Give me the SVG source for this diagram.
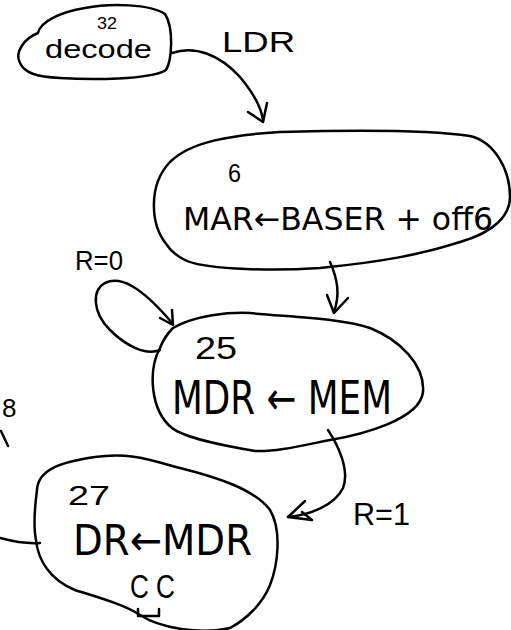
<svg xmlns="http://www.w3.org/2000/svg" width="511" height="630" viewBox="0 0 511 630">
  <style>
    .ink { fill: none; stroke: #000; stroke-width: 2.5; stroke-linecap: round; stroke-linejoin: round; }
    .lbl { font-family: "Liberation Sans", "DejaVu Sans", sans-serif; fill: #000; }
    .op { font-family: "DejaVu Sans", "Liberation Sans", sans-serif; fill: #000; }
  </style>
  <rect width="511" height="630" fill="#fff"/>

  <!-- state 32: decode -->
  <g id="node-decode">
    <path class="ink" d="M20,63 C14,52 25,38 38,33 C40,22 60,12 85,8 C110,3 150,4 165,14 C174,28 172,60 166,70 C150,80 90,80 60,78 C35,77 24,72 20,63 Z"/>
    <text class="lbl" x="97" y="29" font-size="17" textLength="20" lengthAdjust="spacingAndGlyphs">32</text>
    <text class="lbl" x="45" y="58" font-size="26" textLength="107" lengthAdjust="spacingAndGlyphs">decode</text>
  </g>

  <!-- state 6 -->
  <g id="node-6">
    <path class="ink" d="M167,245 C150,225 148,185 170,162 C190,142 230,135 280,132 C350,130 430,130 470,136 C495,142 510,170 510,197 C510,215 495,232 460,242 C420,255 380,262 320,268 C260,272 200,268 185,260 C175,255 170,250 167,245 Z"/>
    <text class="lbl" x="228" y="182" font-size="26" textLength="13" lengthAdjust="spacingAndGlyphs">6</text>
    <text class="op" x="183" y="230" font-size="32" textLength="310" lengthAdjust="spacingAndGlyphs">MAR←BASER + off6</text>
  </g>

  <!-- state 25 -->
  <g id="node-25">
    <path class="ink" d="M173,328 C195,315 230,312 250,313 C290,317 340,318 370,328 C400,340 425,365 423,392 C420,420 360,435 330,440 C300,446 275,452 255,451 C220,445 185,438 172,428 C150,410 148,370 160,348 C163,340 168,333 173,328 Z"/>
    <text class="lbl" x="195" y="359" font-size="32" textLength="42" lengthAdjust="spacingAndGlyphs">25</text>
    <text class="op" x="172" y="414" font-size="46" textLength="220" lengthAdjust="spacingAndGlyphs">MDR ← MEM</text>
  </g>

  <!-- state 27 -->
  <g id="node-27">
    <path class="ink" d="M37,490 C38,470 60,462 95,457 C130,452 150,460 180,468 C220,478 255,490 270,510 C282,530 278,565 270,585 C262,605 245,620 230,628 C200,635 160,628 140,615 C125,605 100,598 75,590 C50,580 38,560 36,540 C33,525 35,505 37,490 Z"/>
    <text class="lbl" x="68" y="505" font-size="28" textLength="42" lengthAdjust="spacingAndGlyphs">27</text>
    <text class="op" x="73" y="555" font-size="42" textLength="179" lengthAdjust="spacingAndGlyphs">DR←MDR</text>
    <text class="lbl" x="130" y="598" font-size="33" textLength="45" lengthAdjust="spacingAndGlyphs">C C</text>
    <path class="ink" d="M138,609 L138,616 L159,616 L159,609"/>
  </g>

  <!-- transitions -->
  <g id="connectors">
    <!-- decode -> 6 -->
    <path class="ink" d="M172,53 C195,45 220,55 240,77 C255,95 262,110 263,121"/>
    <path class="ink" d="M248,112 L263,122 L267,103"/>
    <text class="lbl" x="222" y="52" font-size="30" textLength="73" lengthAdjust="spacingAndGlyphs">LDR</text>

    <!-- 6 -> 25 -->
    <path class="ink" d="M330,262 C338,280 340,295 334,312"/>
    <path class="ink" d="M327,295 L334,313 L348,298"/>

    <!-- 25 self loop, R=0 -->
    <path class="ink" d="M160,350 C145,356 125,345 110,330 C92,312 92,290 105,283 C120,276 140,285 173,324"/>
    <path class="ink" d="M160,318 L173,325 L172,310"/>
    <text class="lbl" x="75" y="270" font-size="28" textLength="48" lengthAdjust="spacingAndGlyphs">R=0</text>

    <!-- 25 -> 27, R=1 -->
    <path class="ink" d="M328,430 C338,445 350,470 343,488 C335,505 310,515 288,517"/>
    <path class="ink" d="M305,501 L288,517 L312,520 M302,512 L312,520"/>
    <text class="lbl" x="353" y="525" font-size="32" textLength="57" lengthAdjust="spacingAndGlyphs">R=1</text>

    <!-- incoming edge from the left, label 8 -->
    <path class="ink" d="M0,538 C15,542 28,544 40,543"/>
    <text class="lbl" x="2" y="417" font-size="26">8</text>
    <path class="ink" d="M1,431 L8,446"/>
  </g>
</svg>
